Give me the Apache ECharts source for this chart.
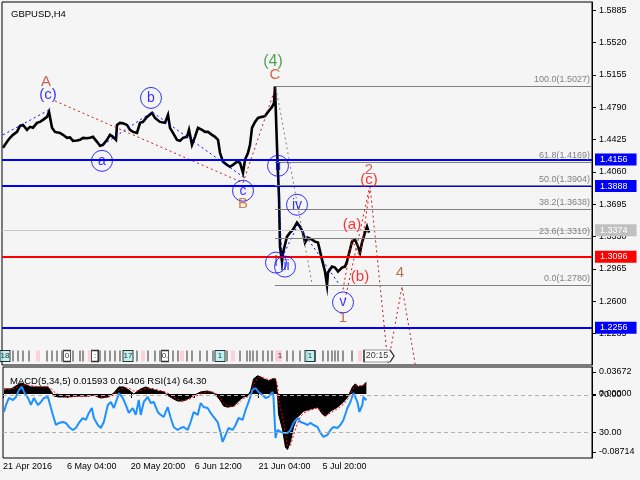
<!DOCTYPE html>
<html><head><meta charset="utf-8">
<script src="https://cdn.jsdelivr.net/npm/echarts@6/dist/echarts.min.js"></script>
<style>html,body{margin:0;padding:0;background:#f5f5f5}#c{width:640px;height:480px}</style>
</head><body><div id="c"></div>
<script>
// ---------- data ----------
const priceX = [3,7,10,13,17,20,23,27,30,33,37,40,43,47,49,52,55,60,63,67,70,73,77,80,83,87,90,93,97,100,103,107,110,113,116,117,120,123,127,130,133,137,140,143,147,152,155,160,165,168,170,173,177,180,183,187,189,192,195,198,202,205,208,212,215,218,220,223,227,230,233,237,240,243,245,248,250,252,255,258,262,265,268,272,274,275,277,278,279,280,282,283,287,290,293,297,300,303,305,308,312,315,318,322,325,327,328,332,335,338,342,345,347,350,352,355,358,360,362,365,367,369];
const priceClose = [1.4332,1.4400,1.4445,1.4479,1.4512,1.4580,1.4591,1.4535,1.4569,1.4560,1.4614,1.4625,1.4648,1.4682,1.4738,1.4558,1.4512,1.4501,1.4479,1.4445,1.4450,1.4411,1.4415,1.4422,1.4445,1.4440,1.4445,1.4456,1.4400,1.4355,1.4366,1.4422,1.4479,1.4456,1.4422,1.4591,1.4614,1.4610,1.4591,1.4535,1.4512,1.4501,1.4614,1.4625,1.4682,1.4727,1.4670,1.4625,1.4614,1.4704,1.4558,1.4501,1.4422,1.4411,1.4445,1.4456,1.4535,1.4366,1.4456,1.4558,1.4535,1.4512,1.4512,1.4479,1.4456,1.4422,1.4276,1.4174,1.4140,1.4118,1.4140,1.4174,1.4163,1.4050,1.4197,1.4276,1.4366,1.4558,1.4625,1.4670,1.4682,1.4690,1.4738,1.4794,1.4839,1.5027,1.4343,1.4050,1.3780,1.3216,1.3047,1.3148,1.3329,1.3374,1.3408,1.3486,1.3441,1.3374,1.3261,1.3317,1.3295,1.3272,1.3261,1.3069,1.2934,1.2780,1.2923,1.2990,1.2979,1.2934,1.2979,1.2990,1.3047,1.3182,1.3272,1.3295,1.3216,1.3148,1.3261,1.3374,1.3441,1.3374];

const macdX = [3,7,10,15,20,25,30,33,40,47,50,53,58,67,77,87,93,97,100,107,113,118,123,128,133,140,145,150,157,163,168,173,177,182,187,192,200,207,213,217,220,223,227,233,237,240,243,247,250,253,257,260,263,268,272,275,277,278,282,285,287,290,293,297,300,303,310,317,322,325,330,337,343,348,352,355,358,362,366];
const macdMain = [0.0069,0.0069,0.0069,0.0110,0.0151,0.0124,0.0096,0.0096,0.0096,0.0096,0.0041,-0.0028,-0.0041,-0.0041,-0.0028,-0.0028,-0.0014,-0.0041,-0.0055,-0.0041,0.0014,0.0096,0.0096,0.0055,0.0000,0.0069,0.0096,0.0069,0.0041,0.0028,-0.0028,-0.0069,-0.0096,-0.0096,-0.0069,-0.0028,0.0028,0.0041,0.0014,-0.0041,-0.0096,-0.0165,-0.0179,-0.0165,-0.0110,-0.0069,-0.0041,-0.0028,0.0041,0.0206,0.0248,0.0234,0.0206,0.0179,0.0206,0.0206,0.0000,-0.0275,-0.0482,-0.0729,-0.0757,-0.0647,-0.0454,-0.0316,-0.0275,-0.0234,-0.0206,-0.0179,-0.0275,-0.0303,-0.0234,-0.0179,-0.0110,-0.0028,0.0096,0.0138,0.0096,0.0110,0.0159];
const macdSignal = [0.0060,0.0065,0.0068,0.0085,0.0110,0.0125,0.0115,0.0105,0.0098,0.0096,0.0075,0.0030,-0.0010,-0.0035,-0.0035,-0.0030,-0.0022,-0.0030,-0.0042,-0.0045,-0.0015,0.0050,0.0085,0.0080,0.0040,0.0045,0.0075,0.0080,0.0055,0.0035,0.0005,-0.0040,-0.0075,-0.0090,-0.0080,-0.0050,0.0000,0.0030,0.0025,-0.0010,-0.0060,-0.0120,-0.0160,-0.0170,-0.0140,-0.0095,-0.0060,-0.0040,0.0000,0.0130,0.0210,0.0235,0.0220,0.0195,0.0200,0.0205,0.0120,-0.0080,-0.0300,-0.0550,-0.0700,-0.0700,-0.0560,-0.0400,-0.0310,-0.0260,-0.0220,-0.0190,-0.0240,-0.0285,-0.0260,-0.0200,-0.0140,-0.0060,0.0050,0.0110,0.0115,0.0110,0.0141];

const rsiX = [3,5,8,12,15,18,21,23,27,30,33,37,40,43,47,49,52,55,58,62,65,68,72,75,78,82,85,88,91,93,97,100,103,107,110,113,117,118,122,125,128,132,135,138,140,143,147,150,153,157,160,163,167,170,173,177,180,183,187,190,193,197,200,203,207,210,213,217,220,222,225,228,232,235,238,242,245,248,252,255,258,262,265,268,272,273,275,277,280,283,287,290,293,297,300,303,307,310,313,317,320,323,327,330,333,337,340,343,347,350,353,357,359,362,363,366];
const rsiVal = [51.8,59.3,66.8,64.6,67.9,75.4,78.6,73.2,66.8,59.3,66.8,59.3,62.5,66.8,67.9,70,48.6,37.8,40,41,40,35.7,32.5,34.6,40,45.3,43.2,50.7,56,45.3,37.8,34.6,41,59.3,62.5,56,67.9,72,66.8,59.3,50.7,56,48.6,64.6,48.6,62.5,67.9,61.4,62.5,51.8,48.6,46.4,57.1,45.3,35.7,32.5,34.6,35.7,32.5,41,51.8,48.6,61.4,57.1,56,50.7,46.4,41,29.3,19.6,27.1,34.6,32.5,37.8,45.3,43.2,53.9,62.5,75.4,77.5,73.2,70,66.8,67.9,73.2,66.8,23.9,32.5,30.4,29.3,29.3,32.5,40,45.3,41,40,37.8,40,37.8,35.7,29.3,25,27.1,32.5,35.7,34.6,37.8,43.2,56,62.5,72.1,62.5,51.8,59.3,67.9,64.3];

const macdLast = '0.01593', signalLast = '0.01406', rsiLast = '64.30';
const macdMax = 0.03672, macdMin = -0.08714;
const rsiLevels = [70, 30];

const priceTicks = [1.5885,1.5520,1.5155,1.4790,1.4425,1.4060,1.3695,1.3330,1.2965,1.2600,1.2235];
const timeTicks = [2,66,130,194,258,322];
const timeLabels = ['21 Apr 2016','6 May 04:00','20 May 20:00','6 Jun 12:00','21 Jun 04:00','5 Jul 20:00'];

const blueLevels = [1.4156, 1.3888, 1.2256];
const redLevels = [1.3096];
const lastPrice = 1.3374;

const fiboStartX = 275;
const fiboRatios = [100.0, 61.8, 50.0, 38.2, 23.6, 0.0];
const fiboPrices = [1.5027, 1.4169, 1.3904, 1.3638, 1.3310, 1.2780];

const waveText   = ['A','(c)','a','b','c','B','(4)','C','ii','iv','i','iii','v','1','(a)','(b)','2','(c)','4'];
const waveX      = [46,48,102,151,243,243,273,275,278,297,276,285,343,343,352,360,369,369,400];
const wavePrice  = [1.5076,1.4930,1.4185,1.4896,1.3847,1.3701,1.5302,1.5155,1.4129,1.3689,1.3035,1.2990,1.2585,1.2415,1.3464,1.2878,1.4084,1.3971,1.2923];
const waveDegree = ['minorA','minuteP','minute','minute','minute','minorB','inter','minorC','minute','minute','minute','minute','minute','minor','sub','sub','minor2','sub','minor'];

const pathBlue1 = [[3,1.4479],[49,1.4760]];
const pathBlue2 = [[103,1.4366],[152,1.4738],[243,1.4005]];
const pathBlue3 = [[277,1.4107],[282,1.3092],[298,1.3464],[340,1.2776]];
const pathMinorABC = [[55,1.4862],[243,1.3937],[275,1.4997]];
const pathGray = [[276,1.5005],[312,1.2799]];
const pathMinor12 = [[345,1.2618],[370,1.3904]];
const pathSubABC = [[343,1.2731],[352,1.3295],[360,1.3092],[370,1.3881]];
const pathProjection = [[370,1.3904],[388,1.1890],[402,1.2765],[418,1.1700]];

const eventX    = [5,13,18,23,29,38,47,52,57,62,67,73,80,83,90,95,98,100,105,110,115,120,128,137,143,148,155,160,165,173,178,182,187,192,200,207,213,220,227,233,240,247,250,253,257,263,268,272,277,280,287,293,300,307,310,315,323,328,332,335,338,343,352,360];
const eventKind = [1,0,0,0,0,2,0,0,0,0,3,0,0,0,2,3,0,0,0,0,0,0,1,0,2,0,0,0,3,0,0,2,0,0,0,0,0,1,0,2,0,0,0,0,0,0,0,0,2,2,0,0,0,0,1,0,0,0,0,0,0,0,0,2];
const eventText = ['18','','','','','','','','','','0','','','','',':','','','','','','','17','','','','','','0.','','','','','','','','','1','','','','','','','','','','','','1','','','','','1','','','','','','','','',''];
const clockX = 379, clockText = '20:15';

// ---------- chart ----------
const F = 'Liberation Sans';
const zip = (xs, ys) => xs.map((x, i) => [x, ys[i]]);
const chart = echarts.init(document.getElementById('c'));

const degreeStyle = {
  minute:  {color:'#0000FF', circle:true,  size:14},
  minuteP: {color:'#0000FF', circle:false, size:15},
  minorA:  {color:'#C0392B', circle:false, size:15},
  minorB:  {color:'#C8641E', circle:false, size:15},
  minorC:  {color:'#D2401E', circle:false, size:15},
  minor:   {color:'#A0522D', circle:false, size:15},
  minor2:  {color:'#C04040', circle:false, size:15},
  inter:   {color:'#2E8B2E', circle:false, size:16},
  sub:     {color:'#FF0000', circle:false, size:15}
};

const levelLines = [];
blueLevels.forEach(p => levelLines.push({yAxis:p, lineStyle:{color:'#0000FF', width:2, type:'solid'},
  label:{show:true, position:'end', formatter:p.toFixed(4), backgroundColor:'#0000FF', color:'#fff', padding:[2,9,1,5], distance:3, fontSize:9, fontFamily:F}}));
redLevels.forEach(p => levelLines.push({yAxis:p, lineStyle:{color:'#FF0000', width:2, type:'solid'},
  label:{show:true, position:'end', formatter:p.toFixed(4), backgroundColor:'#FF0000', color:'#fff', padding:[2,9,1,5], distance:3, fontSize:9, fontFamily:F}}));
levelLines.push({yAxis:lastPrice, lineStyle:{color:'#C8C8C8', width:1, type:'solid'},
  label:{show:true, position:'end', formatter:lastPrice.toFixed(4), backgroundColor:'#C0C0C0', color:'#fff', padding:[2,9,1,5], distance:3, fontSize:9, fontFamily:F}});
fiboPrices.forEach((p, i) => levelLines.push([
  {coord:[fiboStartX, p], lineStyle:{color:'#808080', width:1, type:'solid'},
   label:{show:true, position:'insideEndTop', formatter:fiboRatios[i].toFixed(1)+'('+p.toFixed(4)+')', color:'#808080', fontSize:9, fontFamily:F, distance:2}},
  {coord:[592, p]}
]));

function pathSeries(pts, color) {
  return {type:'line', xAxisIndex:0, yAxisIndex:0, data:pts, showSymbol:false, symbol:'none', silent:true, clip:true, z:4,
    lineStyle:{color:color, width:1, type:[2,3]}};
}

const waveData = waveText.map((t, i) => {
  const s = degreeStyle[waveDegree[i]];
  return {value:[waveX[i], wavePrice[i]], symbol:'circle', symbolSize: s.circle ? 21 : 1,
    itemStyle: s.circle ? {color:'rgba(0,0,0,0)', borderColor:s.color, borderWidth:1} : {color:'rgba(0,0,0,0)'},
    label:{show:true, position:'inside', formatter:t, color:s.color, fontSize:s.size, fontFamily:F}};
});

const kindStyle = [
  {size:[1,11], item:{color:'#000'}},
  {size:[10,11], item:{color:'#B0F0F0', borderColor:'#000', borderWidth:1}},
  {size:[4,11], item:{color:'#FFC8D2'}},
  {size:[7,11], item:{color:'#FFFFFF', borderColor:'#000', borderWidth:1}}
];
const eventData = eventX.map((x, i) => {
  const k = kindStyle[eventKind[i]];
  return {value:[x, 0.5], symbol:'rect', symbolSize:k.size, itemStyle:k.item,
    label:{show: eventText[i] !== '', position:'inside', formatter:eventText[i], color:'#000', fontSize:8, fontFamily:F}};
});
eventData.push({value:[clockX, 0.5], symbol:'path://M0,0H26L30,6L26,12H0Z', symbolSize:[30,12],
  itemStyle:{color:'#fff', borderColor:'#000', borderWidth:1},
  label:{show:true, position:'inside', formatter:clockText, color:'#000', fontSize:9, fontFamily:F, offset:[-2,0]}});

const option = {
  animation:false,
  backgroundColor:'#f5f5f5',
  title:[
    {text:'GBPUSD,H4', left:6, top:4, textStyle:{fontSize:9.5, fontWeight:'normal', color:'#000', fontFamily:F}},
    {text:'MACD(5,34,5) '+macdLast+' '+signalLast+' RSI(14) '+rsiLast, left:5, top:371, textStyle:{fontSize:9.5, fontWeight:'normal', color:'#000', fontFamily:F}}
  ],
  grid:[
    {left:2, right:48, top:2, height:363, show:true, borderColor:'#000', borderWidth:1, backgroundColor:'#f5f5f5'},
    {left:2, right:48, top:348, height:16},
    {left:2, right:48, top:367, height:91, show:true, borderColor:'#000', borderWidth:1, backgroundColor:'#f5f5f5'}
  ],
  xAxis:[
    {gridIndex:0, type:'value', min:2, max:592, show:false},
    {gridIndex:1, type:'value', min:2, max:592, show:false},
    {gridIndex:2, type:'value', min:2, max:592, splitLine:{show:false}, axisLine:{show:false},
      axisTick:{show:true, customValues:timeTicks, length:4, lineStyle:{color:'#000'}},
      axisLabel:{customValues:timeTicks, formatter:v => timeLabels[timeTicks.indexOf(v)] || '', align:'left', color:'#000', fontSize:9, fontFamily:F, margin:4}}
  ],
  yAxis:[
    {gridIndex:0, type:'value', position:'right', min:1.1878, max:1.5980, splitLine:{show:false},
      axisLine:{show:true, lineStyle:{color:'#000'}},
      axisTick:{show:true, customValues:priceTicks, length:4, lineStyle:{color:'#000'}},
      axisLabel:{customValues:priceTicks, formatter:v => v.toFixed(4), color:'#000', fontSize:9, fontFamily:F, margin:7}},
    {gridIndex:1, type:'value', min:0, max:1, show:false},
    {gridIndex:2, type:'value', position:'right', min:macdMin, max:macdMax, splitLine:{show:false},
      axisLine:{show:true, lineStyle:{color:'#000'}},
      axisTick:{show:true, customValues:[macdMax - 0.0068, 0, macdMin + 0.0082], length:4, lineStyle:{color:'#000'}},
      axisLabel:{customValues:[macdMax - 0.0068, 0, macdMin + 0.0082],
        formatter:v => v > 0.01 ? macdMax.toFixed(5) : (v < -0.01 ? macdMin.toFixed(5) : (0).toFixed(5)),
        color:'#000', fontSize:9, fontFamily:F, margin:7}},
    {gridIndex:2, type:'value', position:'right', min:2.4, max:100, splitLine:{show:false}, axisLine:{show:false},
      axisTick:{show:true, customValues:rsiLevels, length:4, lineStyle:{color:'#000'}},
      axisLabel:{customValues:rsiLevels, formatter:v => v.toFixed(2), color:'#000', fontSize:9, fontFamily:F, margin:7}}
  ],
  series:[
    {type:'line', xAxisIndex:0, yAxisIndex:0, data:[], z:1, silent:true,
      markLine:{symbol:'none', silent:true, animation:false, data:levelLines}},
    {type:'line', name:'GBPUSD', xAxisIndex:0, yAxisIndex:0, data:zip(priceX, priceClose), showSymbol:false, symbol:'none', z:3,
      lineStyle:{color:'#000', width:2.6, join:'miter'}},
    pathSeries(pathBlue1, '#0000FF'),
    pathSeries(pathBlue2, '#0000FF'),
    pathSeries(pathBlue3, '#0000FF'),
    pathSeries(pathMinorABC, '#B22222'),
    pathSeries(pathGray, '#808080'),
    pathSeries(pathMinor12, '#B22222'),
    pathSeries(pathSubABC, '#FF0000'),
    pathSeries(pathProjection, '#B22222'),
    {type:'scatter', xAxisIndex:0, yAxisIndex:0, data:waveData, z:5, silent:true},
    {type:'scatter', xAxisIndex:1, yAxisIndex:1, data:eventData, z:5, silent:true},
    {type:'line', name:'MACD', xAxisIndex:2, yAxisIndex:2, data:zip(macdX, macdMain), showSymbol:false, symbol:'none', z:2,
      lineStyle:{color:'#000', width:1}, areaStyle:{color:'#000', opacity:1, origin:0}},
    {type:'line', name:'Signal', xAxisIndex:2, yAxisIndex:2, data:zip(macdX, macdSignal), showSymbol:false, symbol:'none', z:3,
      lineStyle:{color:'#FF0000', width:1, type:[2,2]}},
    {type:'line', name:'RSI', xAxisIndex:2, yAxisIndex:3, data:zip(rsiX, rsiVal), showSymbol:false, symbol:'none', z:4,
      lineStyle:{color:'#1E90FF', width:2},
      markLine:{symbol:'none', silent:true, label:{show:false}, lineStyle:{color:'#B0B0B0', width:1, type:[4,3]},
        data:rsiLevels.map(v => ({yAxis:v}))}}
  ]
};
chart.setOption(option);
</script></body></html>
